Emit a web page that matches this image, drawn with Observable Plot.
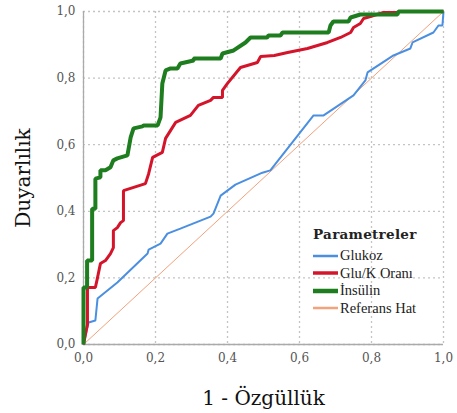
<!DOCTYPE html>
<html>
<head>
<meta charset="utf-8">
<script src="https://cdn.jsdelivr.net/npm/d3@7"></script>
<script src="https://cdn.jsdelivr.net/npm/@observablehq/plot@0.6"></script>
<style>
  body { margin: 0; background: #fff; }
  #wrap { position: relative; width: 457px; height: 413px; }
  #wrap svg text { font-family: "DejaVu Serif", serif !important; }
  g[aria-label="x-axis label"] text, g[aria-label="y-axis label"] text {
    font-size: 20px; fill: #111;
  }
  #legend { position: absolute; left: 313px; top: 226px; font-family: "Liberation Serif", serif; color: #222; }
  #legend .title { font-family: "DejaVu Serif", serif; font-weight: bold; font-size: 13.5px; margin-bottom: 5px; letter-spacing: 0.3px; }
  #legend .row { display: flex; align-items: center; height: 17.5px; font-size: 14.5px; }
  #legend .row span { font-family: "Liberation Serif", serif; }
  #legend svg { margin-right: 2px; }
</style>
</head>
<body>
<div id="wrap"></div>
<script>
// ---- data ----
const seriesNames = ["Glukoz", "Glu/K Oranı", "İnsülin", "Referans Hat"];
const seriesColors = ["#4a8fe0", "#d4142a", "#1e7d1e", "#f2a27c"];
const seriesWidths = [2, 3, 4, 1];

const glukozX = [0, 0.014, 0.033, 0.039, 0.094, 0.178, 0.181, 0.214, 0.233, 0.269, 0.353, 0.361, 0.381, 0.422, 0.497, 0.519, 0.639, 0.667, 0.75, 0.761, 0.783, 0.789, 0.861, 0.908, 0.914, 0.972, 0.986, 0.997, 1];
const glukozY = [0, 0.066, 0.072, 0.138, 0.186, 0.273, 0.285, 0.303, 0.333, 0.348, 0.384, 0.393, 0.447, 0.480, 0.516, 0.523, 0.688, 0.688, 0.748, 0.763, 0.793, 0.817, 0.868, 0.889, 0.907, 0.937, 0.958, 0.958, 1];

const gluKX = [0, 0.008, 0.011, 0.011, 0.033, 0.039, 0.047, 0.061, 0.075, 0.083, 0.083, 0.094, 0.103, 0.111, 0.111, 0.172, 0.181, 0.192, 0.219, 0.228, 0.256, 0.297, 0.319, 0.353, 0.361, 0.386, 0.386, 0.400, 0.436, 0.483, 0.492, 0.53, 0.567, 0.622, 0.678, 0.714, 0.742, 0.75, 0.769, 0.778, 0.806, 0.833, 0.872, 0.878, 1];
const gluKY = [0, 0.045, 0.06, 0.171, 0.171, 0.201, 0.243, 0.252, 0.273, 0.291, 0.342, 0.351, 0.366, 0.372, 0.462, 0.483, 0.513, 0.562, 0.577, 0.619, 0.667, 0.688, 0.718, 0.733, 0.742, 0.742, 0.763, 0.784, 0.832, 0.847, 0.865, 0.868, 0.877, 0.889, 0.907, 0.922, 0.937, 0.952, 0.964, 0.979, 0.988, 0.997, 0.997, 1, 1];

const insulinX = [0, 0, 0.01, 0.01, 0.024, 0.024, 0.033, 0.033, 0.047, 0.047, 0.061, 0.075, 0.083, 0.094, 0.122, 0.131, 0.139, 0.164, 0.167, 0.206, 0.214, 0.219, 0.228, 0.242, 0.261, 0.269, 0.306, 0.306, 0.381, 0.386, 0.417, 0.45, 0.464, 0.51, 0.514, 0.547, 0.553, 0.681, 0.686, 0.694, 0.736, 0.742, 0.769, 0.872, 0.875, 1];
const insulinY = [0, 0.171, 0.171, 0.252, 0.252, 0.408, 0.408, 0.498, 0.502, 0.523, 0.523, 0.532, 0.553, 0.559, 0.568, 0.622, 0.649, 0.655, 0.658, 0.658, 0.682, 0.784, 0.823, 0.829, 0.829, 0.844, 0.853, 0.859, 0.859, 0.874, 0.883, 0.907, 0.922, 0.922, 0.928, 0.928, 0.937, 0.937, 0.958, 0.970, 0.970, 0.982, 0.991, 0.991, 1, 1];

const refX = [0, 1];
const refY = [0, 1];

const ticks = [0, 0.2, 0.4, 0.6, 0.8, 1.0];
const tickLabels = ["0,0", "0,2", "0,4", "0,6", "0,8", "1,0"];
const xTitle = "1 - Özgüllük";
const yTitle = "Duyarlılık";
const legendTitle = "Parametreler";

// ---- build ----
const xs = [glukozX, gluKX, insulinX, refX];
const ys = [glukozY, gluKY, insulinY, refY];
const drawOrder = [3, 0, 1, 2];
const fmt = d => tickLabels[ticks.findIndex(t => Math.abs(t - d) < 1e-9)];

const lineMarks = drawOrder.map(i => {
  const pts = xs[i].map((x, k) => ({x, y: ys[i][k]}));
  return Plot.line(pts, {x: "x", y: "y", stroke: seriesColors[i], strokeWidth: seriesWidths[i], strokeLinejoin: "miter", strokeLinecap: "butt", curve: "linear"});
});

const chart = Plot.plot({
  width: 457,
  height: 413,
  marginLeft: 83,
  marginRight: 14,
  marginTop: 11,
  marginBottom: 69,
  style: {fontFamily: "'DejaVu Serif', serif", fontSize: "12px", color: "#555", background: "#fff"},
  x: {domain: [0, 1]},
  y: {domain: [0, 1]},
  marks: [
    Plot.gridX(ticks, {stroke: "#c4c4c4", strokeOpacity: 1, strokeDasharray: "2,3", strokeWidth: 1.3}),
    Plot.gridY(ticks, {stroke: "#c4c4c4", strokeOpacity: 1, strokeDasharray: "2,3", strokeWidth: 1.3}),
    Plot.ruleX([0], {stroke: "#aaa", strokeWidth: 1.3}),
    Plot.ruleY([0], {stroke: "#aaa", strokeWidth: 1.3}),
    Plot.axisX(ticks, {tickFormat: fmt, tickSize: 0, tickPadding: 9, label: xTitle, labelAnchor: "center", labelOffset: 60, labelArrow: "none"}),
    Plot.axisY(ticks, {tickFormat: fmt, tickSize: 0, tickPadding: 8, label: yTitle, labelAnchor: "center", labelOffset: 68, labelArrow: "none"}),
    ...lineMarks
  ]
});

const wrap = document.getElementById("wrap");
wrap.appendChild(chart);

// legend (HTML overlay)
const legend = document.createElement("div");
legend.id = "legend";
const t = document.createElement("div");
t.className = "title";
t.textContent = legendTitle;
legend.appendChild(t);
seriesNames.forEach((name, i) => {
  const row = document.createElement("div");
  row.className = "row";
  row.innerHTML = `<svg width="25" height="8"><line x1="0" x2="25" y1="4" y2="4" stroke="${seriesColors[i]}" stroke-width="${i === 3 ? 2.5 : seriesWidths[i] + 0.5}"/></svg>`;
  const s = document.createElement("span");
  s.textContent = name;
  row.appendChild(s);
  legend.appendChild(row);
});
wrap.appendChild(legend);
</script>
</body>
</html>
